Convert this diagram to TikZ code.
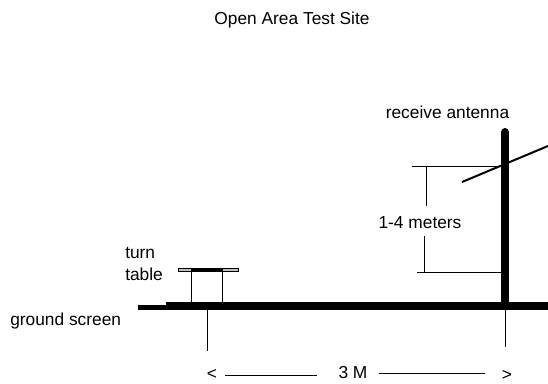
\documentclass[tikz,border=0pt]{standalone}
\usepackage{fontspec}
\setmainfont{Liberation Sans}
\tikzset{
	site label/.style={inner sep=0pt,font=\fontsize{13pt}{15pt}\selectfont},
	thin line/.style={color=black,line width=.75pt},
	thick line/.style={color=black,line width=6pt}
}
\begin{document}
\begin{tikzpicture}[x=.75pt,y=-.75pt]
	\useasboundingbox (0,0) rectangle (548,383);
	\node[site label] (title) at (292,20) {Open Area Test Site};
	\node[site label] (receive) at (447.5,112) {receive antenna};
	\node[site label] (meters) at (420,223) {1-4 meters};
	\node[site label,anchor=west] (turn) at (125,253) {turn};
	\node[site label,anchor=west] (table) at (125,274) {table};
	\node[site label,anchor=west] (ground) at (10,321) {ground screen};
	\node[site label] (three) at (353,373) {3 M};
	\node[site label] (lt) at (212,374) {<};
	\node[site label] (gt) at (507,375) {>};

	\coordinate (screen-a) at (138,307.5);
	\coordinate (screen-b) at (166,307.5);
	\coordinate (screen-c) at (166,306);
	\coordinate (screen-d) at (548,306);
	\coordinate (pole-top) at (505,132);
	\coordinate (pole-foot) at (505,306);
	\coordinate (ant-a) at (462,182);
	\coordinate (ant-b) at (548,146);
	\coordinate (high-a) at (412,166.5);
	\coordinate (high-b) at (505,166.5);
	\coordinate (low-a) at (417,272.5);
	\coordinate (low-b) at (505,272.5);
	\coordinate (high-m) at (426.5,166.5);
	\coordinate (high-n) at (426.5,206);
	\coordinate (low-m) at (424.5,272.5);
	\coordinate (low-n) at (424.5,236);
	\coordinate (leg-a) at (191.5,272);
	\coordinate (leg-b) at (222.5,272);
	\coordinate (foot-a) at (191.5,302);
	\coordinate (foot-b) at (222.5,302);
	\coordinate (tick-a) at (207.5,306);
	\coordinate (tick-b) at (207.5,351);
	\coordinate (tick-c) at (505.5,306);
	\coordinate (tick-d) at (505.5,347);
	\coordinate (dist-a) at (225,375);
	\coordinate (dist-b) at (317,375);
	\coordinate (dist-c) at (379,373.5);
	\coordinate (dist-d) at (485,373.5);

	% screen and pole
	\draw[color=black,line width=3.4pt] (screen-a) -- (screen-b);
	\draw[thick line] (screen-c) -- (screen-d);
	\draw[thick line,line cap=round] (pole-top) -- (pole-foot);
	\draw[color=black,line width=1.5pt] (ant-a) -- (ant-b);

	% height marks
	\draw[thin line] (high-a) -- (high-b);
	\draw[thin line] (low-a) -- (low-b);
	\draw[thin line] (high-m) -- (high-n);
	\draw[thin line] (low-m) -- (low-n);

	% turn table
	\draw[thin line,line width=1pt] (leg-a) -- (foot-a);
	\draw[thin line,line width=1pt] (leg-b) -- (foot-b);
	\draw[color=black,fill=lightgray,line width=.7pt] (178,268) rectangle (238,271.5);
	\fill[black] (191,267.5) rectangle (223,272);

	% distance
	\draw[thin line] (tick-a) -- (tick-b);
	\draw[thin line] (tick-c) -- (tick-d);
	\draw[thin line] (dist-a) -- (dist-b);
	\draw[thin line] (dist-c) -- (dist-d);
\end{tikzpicture}
\end{document}
